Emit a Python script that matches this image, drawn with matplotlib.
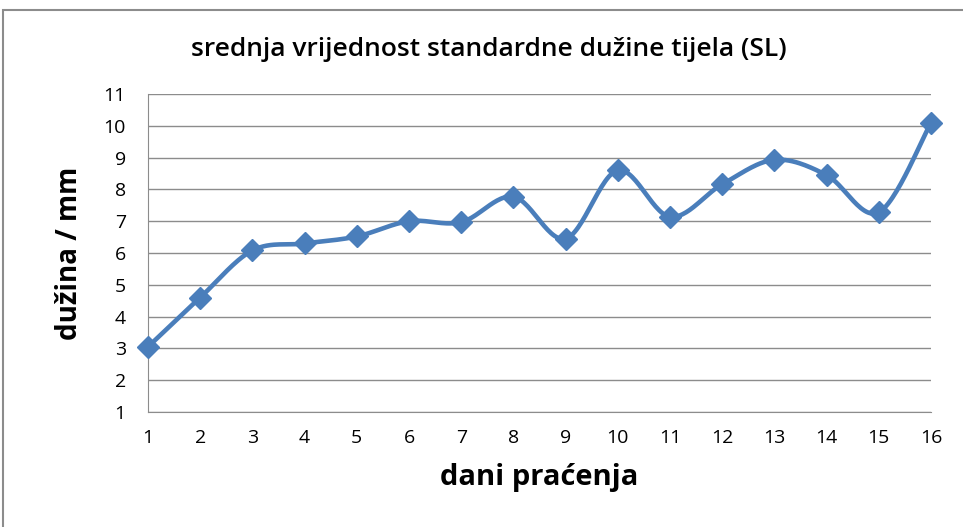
import numpy as np
import matplotlib.pyplot as plt
from matplotlib.patches import Rectangle

days = list(range(1, 17))
sl = [3.05, 4.6, 6.08, 6.3, 6.52, 7.0, 6.97, 7.77, 6.45, 8.6, 7.14, 8.16, 8.93, 8.45, 7.28, 10.1]


def smooth(x, y, n=30):
    # Catmull-Rom style curve, like Excel's smoothed line
    x = np.asarray(x, float)
    y = np.asarray(y, float)
    px = np.concatenate([[x[0]], x, [x[-1]]])
    py = np.concatenate([[y[0]], y, [y[-1]]])
    xs, ys = [], []
    t = np.linspace(0, 1, n)
    for i in range(1, len(px) - 2):
        p0, p1, p2, p3 = px[i - 1], px[i], px[i + 1], px[i + 2]
        q0, q1, q2, q3 = py[i - 1], py[i], py[i + 1], py[i + 2]
        # bezier control points
        c1x, c1y = p1 + (p2 - p0) / 6, q1 + (q2 - q0) / 6
        c2x, c2y = p2 - (p3 - p1) / 6, q2 - (q3 - q1) / 6
        bx = (1 - t) ** 3 * p1 + 3 * (1 - t) ** 2 * t * c1x + 3 * (1 - t) * t ** 2 * c2x + t ** 3 * p2
        by = (1 - t) ** 3 * q1 + 3 * (1 - t) ** 2 * t * c1y + 3 * (1 - t) * t ** 2 * c2y + t ** 3 * q2
        xs.extend(bx)
        ys.extend(by)
    return np.array(xs), np.array(ys)


plt.rcParams['font.family'] = ['Open Sans', 'DejaVu Sans']

fig = plt.figure(figsize=(9.63, 5.27), dpi=100)
fig.patches.append(Rectangle((3 / 963, -0.01), 1.0, 1 - 10 / 527 + 0.01, transform=fig.transFigure,
                             fill=False, edgecolor='#8c8c8c', linewidth=1.5))

ax = fig.add_axes([148 / 963, 115 / 527, 783 / 963, 318 / 527])
color = '#4a7ebb'
sx, sy = smooth(days, sl)
ax.plot(sx, sy, color=color, linewidth=3.3, solid_capstyle='round', zorder=3, clip_on=False)
ax.plot(days, sl, linestyle='none', marker='D', markersize=11, color=color, zorder=4, clip_on=False)

ax.set_xlim(1, 16)
ax.set_ylim(1, 11)
ax.set_yticks(range(1, 12))
ax.set_xticks(days)
ax.grid(axis='y', color='#8c8c8c', linewidth=1)
ax.set_axisbelow(True)
for s in ['top', 'right']:
    ax.spines[s].set_visible(False)
ax.spines['left'].set_color('#8c8c8c')
ax.spines['bottom'].set_color('#8c8c8c')
ax.tick_params(length=0, labelsize=14)
ax.tick_params(axis='x', pad=12)
ax.tick_params(axis='y', pad=16)

fig.text(489 / 963, 1 - 50 / 527, 'srednja vrijednost standardne dužine tijela (SL)', fontsize=19,
         fontweight='semibold', ha='center', va='center')
ax.set_xlabel('dani praćenja', fontsize=21, fontweight='bold', labelpad=12)
ax.set_ylabel('dužina / mm', fontsize=20, fontweight='bold', labelpad=14)

fig.savefig('out.png', dpi=100)
